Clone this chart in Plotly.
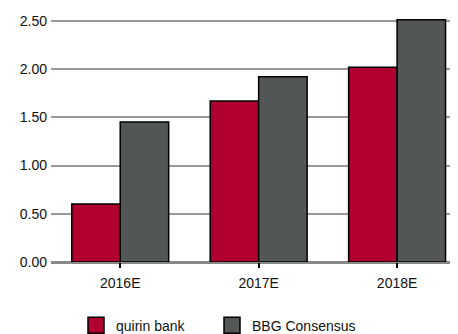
import plotly.graph_objects as go

categories = ["2016E", "2017E", "2018E"]
quirin = [0.60, 1.67, 2.02]
consensus = [1.45, 1.92, 2.51]
y_ticks = [0, 0.5, 1.0, 1.5, 2.0, 2.5]
y_tick_labels = ["0.00", "0.50", "1.00", "1.50", "2.00", "2.50"]
series_names = ["quirin bank", "BBG Consensus"]
series_colors = ["#B0002F", "#535657"]
legend_ids = ["legend", "legend2"]

fig = go.Figure()
for vals, name, col in zip([quirin, consensus], series_names, series_colors):
    fig.add_trace(go.Bar(x=categories, y=vals, name=name, showlegend=False,
                         marker=dict(color=col, line=dict(color="#000000", width=1.5))))
for name, col, lg in zip(series_names, series_colors, legend_ids):
    fig.add_trace(go.Scatter(x=[None], y=[None], mode="markers", name=name, legend=lg,
                             marker=dict(symbol="square", size=16, color=col,
                                         line=dict(color="#000000", width=1.5))))

legend_style = dict(orientation="h", xref="container", yref="container",
                    xanchor="left", y=0.075, yanchor="top",
                    font=dict(size=14), itemsizing="trace",
                    bgcolor="rgba(0,0,0,0)")

# page body adds an 8px margin, so the figure is 450x326 and offsets are reduced by 8
fig.update_layout(
    width=450, height=326,
    margin=dict(l=43, r=0, t=8, b=72),
    barmode="group", bargap=0.3, bargroupgap=0,
    plot_bgcolor="white", paper_bgcolor="white",
    font=dict(family="Liberation Sans, Arial, sans-serif", size=14, color="#111111"),
    showlegend=True,
    legend=dict(legend_style, x=68 / 450),
    legend2=dict(legend_style, x=204 / 450),
    xaxis=dict(range=[-0.5, 2.44], ticks="outside", ticklen=5, tickwidth=1.5,
               tickcolor="#000000", showline=False, showgrid=False,
               ticklabelstandoff=3),
    yaxis=dict(range=[0, 2.55], tickvals=y_ticks, ticktext=y_tick_labels,
               showgrid=True, gridcolor="#999999", gridwidth=2,
               zeroline=True, zerolinecolor="#888888", zerolinewidth=2.5,
               showline=False, ticks="", ticklabelstandoff=3),
)

fig.write_html("out.html")
